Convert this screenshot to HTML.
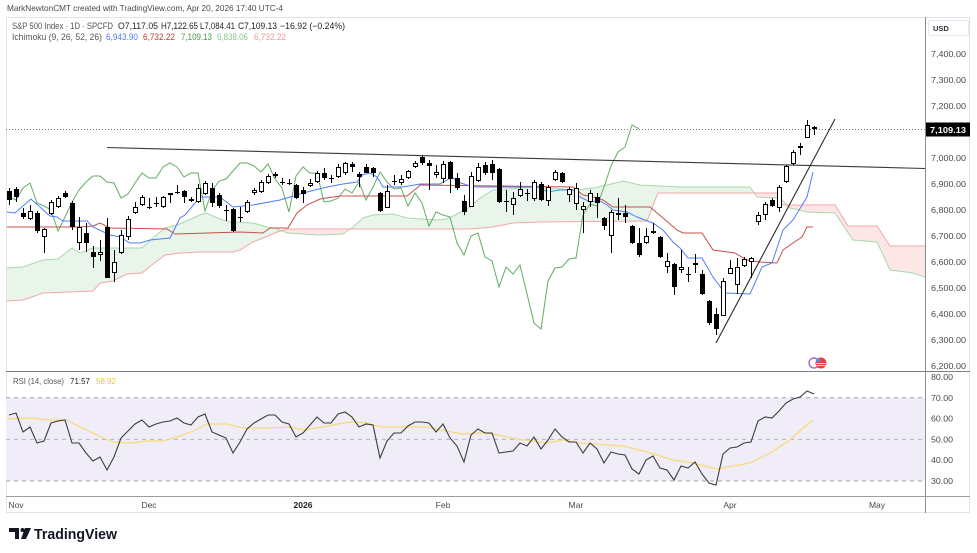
<!DOCTYPE html>
<html>
<head>
<meta charset="utf-8">
<style>
html,body{margin:0;padding:0;background:#fff;}
svg{display:block;}
text{font-family:"Liberation Sans",sans-serif;}
</style>
</head>
<body>
<svg width="977" height="553" viewBox="0 0 977 553" xmlns="http://www.w3.org/2000/svg">
<defs>
<clipPath id="pane"><rect x="6" y="17" width="919" height="354"/></clipPath>
<clipPath id="rsipane"><rect x="6" y="372" width="919" height="124"/></clipPath>
<clipPath id="aboveB"><polygon points="7,301 23,300 43,293 67,292 93,291 100,283 113,281 127,274 142,273 153,264 165,255 180,253 200,252 233,252 240,250 253,242 263,238 277,232 287,229 470,229 493,227 513,223 540,222 647,221 658,193 780,193 782,205 835,205 848,226 877,226 890,246 925,246 925,17 7,17"/></clipPath>
<clipPath id="aboveA"><polygon points="7,268 23,267 43,260 58,259 72,248 80,253 93,248 142,248 153,238 165,228 177,225 200,215 206,213 220,219 230,222 253,223 267,227 275,228 287,233 320,235 343,234 353,227 363,218 373,215 393,214 407,218 437,220 447,219 457,214 470,207 480,198 493,190 533,187 577,190 593,188 607,185 623,181 640,185 680,187 750,187 757,197 780,198 790,208 807,212 835,213 853,240 877,242 890,270 913,273 925,277 925,17 7,17"/></clipPath>
</defs>
<rect width="977" height="553" fill="#fff"/>

<!-- header -->
<text x="7" y="11" font-size="8.5" fill="#4a4a4a" textLength="276" lengthAdjust="spacingAndGlyphs">MarkNewtonCMT created with TradingView.com, Apr 20, 2026 17:40 UTC-4</text>

<!-- frame -->
<rect x="6.5" y="17.5" width="963" height="495" fill="none" stroke="#e0e3eb" stroke-width="1"/>

<!-- legend rows -->
<text x="12" y="29" font-size="9" fill="#555" textLength="101" lengthAdjust="spacingAndGlyphs">S&amp;P 500 Index · 1D · SPCFD</text>
<text x="118" y="29" font-size="9" fill="#222" textLength="40" lengthAdjust="spacingAndGlyphs">O7,117.05</text>
<text x="161" y="29" font-size="9" fill="#222" textLength="37" lengthAdjust="spacingAndGlyphs">H7,122.65</text>
<text x="200" y="29" font-size="9" fill="#222" textLength="35" lengthAdjust="spacingAndGlyphs">L7,084.41</text>
<text x="238" y="29" font-size="9" fill="#222" textLength="39" lengthAdjust="spacingAndGlyphs">C7,109.13</text>
<text x="280" y="29" font-size="9" fill="#222" textLength="65" lengthAdjust="spacingAndGlyphs">−16.92 (−0.24%)</text>

<text x="12" y="40" font-size="9" fill="#555" textLength="90" lengthAdjust="spacingAndGlyphs">Ichimoku (9, 26, 52, 26)</text>
<text x="106" y="40" font-size="9" fill="#4c7ee8" textLength="32" lengthAdjust="spacingAndGlyphs">6,943.90</text>
<text x="143" y="40" font-size="9" fill="#c0392b" textLength="32" lengthAdjust="spacingAndGlyphs">6,732.22</text>
<text x="181" y="40" font-size="9" fill="#43a047" textLength="31" lengthAdjust="spacingAndGlyphs">7,109.13</text>
<text x="217" y="40" font-size="9" fill="#86c88a" textLength="31" lengthAdjust="spacingAndGlyphs">6,838.06</text>
<text x="254" y="40" font-size="9" fill="#ee9a9a" textLength="32" lengthAdjust="spacingAndGlyphs">6,732.22</text>

<!-- price pane -->
<g clip-path="url(#pane)">
  <polygon clip-path="url(#aboveB)" fill="#e9f4ea" points="7,268 23,267 43,260 58,259 72,248 80,253 93,248 142,248 153,238 165,228 177,225 200,215 206,213 220,219 230,222 253,223 267,227 275,228 287,233 320,235 343,234 353,227 363,218 373,215 393,214 407,218 437,220 447,219 457,214 470,207 480,198 493,190 533,187 577,190 593,188 607,185 623,181 640,185 680,187 750,187 757,197 780,198 790,208 807,212 835,213 853,240 877,242 890,270 913,273 925,277 925,371 7,371"/>
  <polygon clip-path="url(#aboveA)" fill="#fde7e6" points="7,301 23,300 43,293 67,292 93,291 100,283 113,281 127,274 142,273 153,264 165,255 180,253 200,252 233,252 240,250 253,242 263,238 277,232 287,229 470,229 493,227 513,223 540,222 647,221 658,193 780,193 782,205 835,205 848,226 877,226 890,246 925,246 925,371 7,371"/>
  <polyline fill="none" stroke="#a9d8ab" stroke-width="1" points="7,268 23,267 43,260 58,259 72,248 80,253 93,248 142,248 153,238 165,228 177,225 200,215 206,213 220,219 230,222 253,223 267,227 275,228 287,233 320,235 343,234 353,227 363,218 373,215 393,214 407,218 437,220 447,219 457,214 470,207 480,198 493,190 533,187 577,190 593,188 607,185 623,181 640,185 680,187 750,187 757,197 780,198 790,208 807,212 835,213 853,240 877,242 890,270 913,273 925,277"/>
  <polyline fill="none" stroke="#f2a7a7" stroke-width="1" points="7,301 23,300 43,293 67,292 93,291 100,283 113,281 127,274 142,273 153,264 165,255 180,253 200,252 233,252 240,250 253,242 263,238 277,232 287,229 470,229 493,227 513,223 540,222 647,221 658,193 780,193 782,205 835,205 848,226 877,226 890,246 925,246"/>

  <line x1="6" y1="129.5" x2="925" y2="129.5" stroke="#777" stroke-width="1" stroke-dasharray="1,2"/>

  <polyline fill="none" stroke="#5fae62" stroke-width="1" points="9,197 16,200 23,188 30,183 37,203 44,206 51,210 58,231 65,217 72,202 79,190 86,182 93,176 100,176 107,182 114,183 121,198 128,194 135,183 142,173 149,178 156,178 163,167 170,163 177,167 184,177 191,173 198,173 205,211 212,191 219,181 226,179 233,171 240,163 247,163 254,166 261,172 268,164 275,179 282,188 289,212 296,176 303,167 310,173 317,173 324,202 331,201 338,198 345,189 352,193 359,182 366,200 373,187 380,172 387,182 394,189 401,188 408,206 415,193 422,203 429,226 436,212 443,215 450,217 457,243 464,255 471,236 478,233 485,257 492,261 499,287 506,267 513,274 520,265 527,294 534,323 541,329 548,281 555,268 562,267 569,259 576,258 583,215 590,204 597,206 604,187 611,166 618,152 625,147 632,125 639,129"/>

  <polyline fill="none" stroke="#c9504c" stroke-width="1" points="7,227 80,227 93,226 100,223 110,228 167,229 175,234 240,232 263,233 270,228 288,228 297,213 307,205 320,199 340,196 407,196 417,188 420,185 573,187 583,195 593,197 603,200 613,207 650,207 663,218 677,230 683,233 702,233 713,250 735,253 747,260 760,262 777,263 783,250 793,243 802,237 807,227 813,227"/>

  <polyline fill="none" stroke="#4f7ff5" stroke-width="1" points="7,212 15,213 31,199 50,216 57,217 63,221 87,221 93,227 110,235 120,237 130,243 140,243 150,240 170,238 180,218 185,215 200,197 220,197 233,207 253,205 280,200 307,192 327,187 343,184 357,182 362,175 370,173 377,177 383,187 403,187 420,184 440,184 447,180 452,177 458,182 470,186 477,187 540,187 547,192 560,190 573,190 580,197 590,202 600,201 607,205 613,210 627,212 637,217 653,223 663,230 673,242 680,248 688,258 702,258 713,277 725,293 750,294 762,267 772,263 783,230 793,220 807,197 813,172"/>

  <line x1="107" y1="147.5" x2="925" y2="168.5" stroke="#3a3a3a" stroke-width="1.1"/>
  <line x1="716" y1="343" x2="835" y2="119" stroke="#2a2a2a" stroke-width="1.1"/>

  <path fill="none" stroke="#000" stroke-width="1" d="M9.5 188V205M16.5 187V202M23.5 208V219M30.5 205V220M37.5 211V233M44.5 228V253M51.5 200V215M58.5 196V208M65.5 191V198M72.5 201V230M79.5 217V250M86.5 223V252M93.5 246V268M100.5 240V261M107.5 218V278M114.5 250V282M121.5 230V254M128.5 216V240M135.5 202V214M142.5 195V206M149.5 198V209M156.5 197V207M163.5 196V208M170.5 193V203M177.5 185V194M184.5 190V203M191.5 197V202M198.5 184V203M205.5 181V195M212.5 183V207M219.5 193V208M226.5 205V221M233.5 208V232M240.5 207V222M247.5 200V213M254.5 188V195M261.5 180V193M268.5 174V184M275.5 172V178M282.5 178V185M289.5 179V185M296.5 184V199M303.5 187V203M310.5 179V187M317.5 171V183M324.5 168V180M331.5 175V183M338.5 164V178M345.5 162V175M352.5 162V172M359.5 172V187M366.5 164V173M373.5 167V177M380.5 192V212M387.5 185V208M394.5 175V185M401.5 175V185M408.5 170V179M415.5 161V168M422.5 156V165M429.5 160V190M436.5 165V178M443.5 161V183M450.5 161V193M457.5 173V190M464.5 195V215M471.5 172V207M478.5 163V182M485.5 162V175M492.5 160V180M499.5 168V203M506.5 190V212M513.5 192V215M520.5 182V197M527.5 189V201M534.5 180V201M541.5 182V201M548.5 185V206M555.5 170V181M562.5 172V183M569.5 187V202M576.5 183V210M583.5 202V233M590.5 190V207M597.5 193V218M604.5 217V230M611.5 210V253M618.5 198V220M625.5 205V223M632.5 225V244M639.5 228V257M646.5 228V244M653.5 223V234M660.5 236V258M667.5 253V273M674.5 263V295M681.5 250V273M688.5 267V282M695.5 254V273M702.5 270V295M709.5 300V325M716.5 308V335M723.5 278V316M730.5 260V274M737.5 258V294M744.5 257V267M751.5 257V278M758.5 212V225M765.5 202V220M772.5 198V207M779.5 185V212M786.5 165V183M793.5 150V165M800.5 143V155M807.5 120V138M814.5 126V135"/>

  <path fill="#000" d="M7 191h5v9h-5zM14 189h5v8h-5zM21 213h5v4h-5zM35 213h5v18h-5zM63 193h5v4h-5zM70 203h5v24h-5zM84 233h5v10h-5zM91 252h5v5h-5zM105 227h5v51h-5zM168 193h5v2h-5zM182 191h5v6h-5zM210 188h5v15h-5zM217 195h5v11h-5zM231 209h5v22h-5zM273 174h5v2h-5zM294 185h5v13h-5zM301 190h5v4h-5zM322 173h5v5h-5zM350 164h5v3h-5zM357 174h5v3h-5zM364 167h5v6h-5zM371 168h5v5h-5zM378 193h5v18h-5zM420 157h5v6h-5zM427 163h5v3h-5zM448 162h5v17h-5zM455 178h5v10h-5zM462 201h5v11h-5zM483 165h5v8h-5zM490 164h5v9h-5zM497 169h5v33h-5zM539 184h5v16h-5zM560 173h5v9h-5zM595 197h5v6h-5zM602 218h5v8h-5zM616 213h5v2h-5zM623 213h5v4h-5zM630 226h5v17h-5zM637 243h5v12h-5zM651 231h5v2h-5zM658 237h5v20h-5zM672 264h5v23h-5zM693 263h5v2h-5zM700 274h5v20h-5zM707 301h5v22h-5zM714 314h5v15h-5zM770 200h5v6h-5zM812 127h5v2h-5z
  M147 207h5v1h-5zM154 203h5v1h-5zM175 192h5v1h-5zM224 210h5v1h-5zM238 217h5v1h-5zM280 182h5v1h-5zM287 183h5v1h-5zM329 178h5v1h-5zM392 181h5v1h-5zM504 201h5v1h-5zM525 193h5v1h-5zM686 274h5v1h-5z"/>

  <path fill="#fff" stroke="#000" stroke-width="1" d="M28.5 211.5h4v7h-4zM42.5 229.5h4v7h-4zM49.5 202.5h4v11h-4zM56.5 198.5h4v8h-4zM77.5 227.5h4v15h-4zM98.5 252.5h4v2h-4zM112.5 262.5h4v10h-4zM119.5 235.5h4v17h-4zM126.5 219.5h4v17h-4zM133.5 207.5h4v5h-4zM140.5 197.5h4v7h-4zM161.5 197.5h4v9h-4zM189.5 199.5h4v1h-4zM196.5 188.5h4v13h-4zM203.5 183.5h4v10h-4zM245.5 202.5h4v9h-4zM252.5 190.5h4v2h-4zM259.5 182.5h4v9h-4zM266.5 176.5h4v6h-4zM308.5 183.5h4v2h-4zM315.5 173.5h4v8h-4zM336.5 167.5h4v9h-4zM343.5 163.5h4v9h-4zM385.5 191.5h4v16h-4zM399.5 179.5h4v3h-4zM406.5 171.5h4v6h-4zM413.5 163.5h4v3h-4zM434.5 172.5h4v2h-4zM441.5 164.5h4v14h-4zM469.5 176.5h4v30h-4zM476.5 167.5h4v13h-4zM511.5 198.5h4v6h-4zM518.5 189.5h4v6h-4zM532.5 182.5h4v16h-4zM546.5 187.5h4v13h-4zM553.5 172.5h4v7h-4zM567.5 189.5h4v5h-4zM574.5 188.5h4v15h-4zM581.5 206.5h4v3h-4zM588.5 193.5h4v8h-4zM609.5 212.5h4v23h-4zM644.5 236.5h4v6h-4zM665.5 261.5h4v5h-4zM679.5 267.5h4v2h-4zM721.5 281.5h4v34h-4zM728.5 268.5h4v5h-4zM735.5 267.5h4v17h-4zM742.5 259.5h4v6h-4zM749.5 258.5h4v3h-4zM756.5 215.5h4v6h-4zM763.5 204.5h4v10h-4zM777.5 187.5h4v20h-4zM784.5 166.5h4v15h-4zM791.5 152.5h4v11h-4zM798.5 146.5h4v1h-4zM805.5 125.5h4v12h-4z"/>

  <circle cx="814" cy="363" r="5" fill="#fff" stroke="#a64dc4" stroke-width="1.2"/>
  <circle cx="821" cy="363" r="5.5" fill="#e8413b"/>
  <rect x="816.5" y="359" width="4" height="3" fill="#4a90e2"/>
  <path d="M816 363.5h10M816.5 365.5h9" stroke="#fff" stroke-width="0.8"/>
</g>

<line x1="6" y1="371.5" x2="970" y2="371.5" stroke="#7b7e88" stroke-width="1"/>
<line x1="925.5" y1="17" x2="925.5" y2="513" stroke="#8a8d96" stroke-width="1"/>
<line x1="6" y1="496.5" x2="970" y2="496.5" stroke="#9a9da6" stroke-width="1"/>

<g clip-path="url(#rsipane)">
  <rect x="6" y="397.8" width="919" height="83.2" fill="#f0edf8"/>
  <line x1="6" y1="397.8" x2="925" y2="397.8" stroke="#a2a4ad" stroke-width="1" stroke-dasharray="4,4"/>
  <line x1="6" y1="439.4" x2="925" y2="439.4" stroke="#b3b5bd" stroke-width="1" stroke-dasharray="4,4"/>
  <line x1="6" y1="481" x2="925" y2="481" stroke="#a2a4ad" stroke-width="1" stroke-dasharray="4,4"/>
  <polyline fill="none" stroke="#f5dc78" stroke-width="1.2" points="7,419 30,418 50,420 67,420 80,427 97,435 113,442 130,443 147,441 163,441 177,437 193,431 207,424 227,424 243,428 267,428 290,427 303,430 323,427 343,423 353,422 367,423 380,427 400,427 427,427 440,430 463,434 480,433 493,434 517,439 547,443 563,440 580,443 623,446 647,452 673,460 693,463 717,469 733,466 750,463 770,453 790,440 803,428 813,420"/>
  <polyline fill="none" stroke="#3c3c3c" stroke-width="1.1" points="9,415 16,413 23,432 30,427 37,443 44,441 51,423 58,421 65,420 72,443 79,443 86,453 93,461 100,457 107,470 114,457 121,438 128,431 135,424 142,420 149,427 156,424 163,422 170,421 177,418 184,423 191,425 198,417 205,414 212,432 219,435 226,438 233,453 240,442 247,429 254,423 261,419 268,415 275,415 282,422 289,424 296,437 303,433 310,425 317,417 324,423 331,423 338,414 345,412 352,417 359,427 366,424 373,425 380,458 387,441 394,433 401,433 408,426 415,422 422,422 429,423 436,432 443,424 450,438 457,446 464,462 471,435 478,429 485,433 492,433 499,453 506,452 513,451 520,443 527,446 534,437 541,449 548,440 555,429 562,437 569,442 576,442 583,453 590,443 597,449 604,463 611,452 618,454 625,455 632,469 639,474 646,460 653,456 660,468 667,470 674,480 681,466 688,468 695,462 702,474 709,483 716,485 723,454 730,448 737,447 744,443 751,442 758,421 765,417 772,418 779,411 786,403 793,399 800,397 807,391 814,394"/>
</g>
<text x="13" y="384" font-size="8.5" fill="#555" textLength="51" lengthAdjust="spacingAndGlyphs">RSI (14, close)</text>
<text x="70" y="384" font-size="8.5" fill="#222" textLength="20" lengthAdjust="spacingAndGlyphs">71.57</text>
<text x="96" y="384" font-size="8.5" fill="#ecc53a" textLength="20" lengthAdjust="spacingAndGlyphs">58.92</text>

<rect x="928.5" y="20.5" width="40" height="15" rx="2" fill="#fff" stroke="#e6e8ee"/>
<text x="933" y="31" font-size="7.5" fill="#333" font-weight="bold">USD</text>
<g font-size="8.5" fill="#4a4a4a">
<text x="931" y="57" textLength="35" lengthAdjust="spacingAndGlyphs">7,400.00</text>
<text x="931" y="83" textLength="35" lengthAdjust="spacingAndGlyphs">7,300.00</text>
<text x="931" y="109" textLength="35" lengthAdjust="spacingAndGlyphs">7,200.00</text>
<text x="931" y="161" textLength="35" lengthAdjust="spacingAndGlyphs">7,000.00</text>
<text x="931" y="187" textLength="35" lengthAdjust="spacingAndGlyphs">6,900.00</text>
<text x="931" y="213" textLength="35" lengthAdjust="spacingAndGlyphs">6,800.00</text>
<text x="931" y="239" textLength="35" lengthAdjust="spacingAndGlyphs">6,700.00</text>
<text x="931" y="265" textLength="35" lengthAdjust="spacingAndGlyphs">6,600.00</text>
<text x="931" y="291" textLength="35" lengthAdjust="spacingAndGlyphs">6,500.00</text>
<text x="931" y="317" textLength="35" lengthAdjust="spacingAndGlyphs">6,400.00</text>
<text x="931" y="343" textLength="35" lengthAdjust="spacingAndGlyphs">6,300.00</text>
<text x="931" y="369" textLength="35" lengthAdjust="spacingAndGlyphs">6,200.00</text>
<text x="931" y="380" textLength="22" lengthAdjust="spacingAndGlyphs">80.00</text>
<text x="931" y="401" textLength="22" lengthAdjust="spacingAndGlyphs">70.00</text>
<text x="931" y="421.5" textLength="22" lengthAdjust="spacingAndGlyphs">60.00</text>
<text x="931" y="442.5" textLength="22" lengthAdjust="spacingAndGlyphs">50.00</text>
<text x="931" y="463" textLength="22" lengthAdjust="spacingAndGlyphs">40.00</text>
<text x="931" y="484" textLength="22" lengthAdjust="spacingAndGlyphs">30.00</text>
</g>
<rect x="926" y="122.5" width="44" height="14" fill="#000"/>
<text x="930" y="133" font-size="8.5" fill="#fff" font-weight="bold" textLength="36" lengthAdjust="spacingAndGlyphs">7,109.13</text>

<g font-size="8.5" fill="#4a4a4a" text-anchor="middle">
<text x="16" y="508">Nov</text>
<text x="149" y="508">Dec</text>
<text x="303" y="508" font-weight="bold" fill="#222">2026</text>
<text x="443" y="508">Feb</text>
<text x="576" y="508">Mar</text>
<text x="730" y="508">Apr</text>
<text x="877" y="508">May</text>
</g>

<g fill="#131722">
  <path d="M9 528h10v11h-4v-7h-6z"/>
  <circle cx="22.5" cy="530" r="2"/>
  <path d="M25 528h6l-5 11h-5z"/>
</g>
<text x="34" y="539" font-size="15" font-weight="bold" fill="#131722" textLength="83" lengthAdjust="spacingAndGlyphs">TradingView</text>
</svg>
</body>
</html>
